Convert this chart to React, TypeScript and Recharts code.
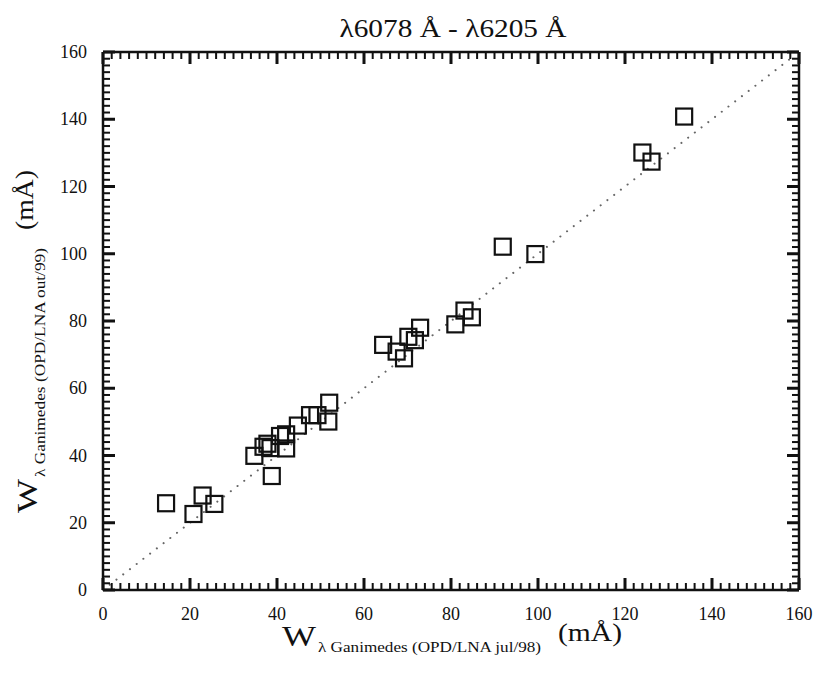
import React from 'react';
import { ScatterChart, Scatter, XAxis, YAxis, ReferenceLine } from 'recharts';

// W_lambda Ganimedes (OPD/LNA jul/98), mÅ
const jul98 = [14.5, 20.8, 22.9, 25.6, 34.8, 38.8, 36.9, 37.8, 38.5, 42.1, 42.1, 40.7, 44.8, 47.6, 49.3, 51.8, 52.0, 64.4, 67.5, 69.2, 70.2, 71.7, 72.9, 81.0, 83.1, 84.8, 91.9, 99.4, 124.0, 126.1, 133.6];
// W_lambda Ganimedes (OPD/LNA out/99), mÅ
const out99 = [25.8, 22.6, 28.1, 25.6, 39.9, 33.9, 42.6, 43.5, 42.2, 42.1, 46.3, 45.8, 48.9, 52.0, 52.0, 50.1, 55.7, 72.9, 70.9, 68.9, 75.3, 74.3, 78.0, 79.0, 83.1, 81.1, 102.1, 99.9, 130.1, 127.4, 140.8];

const majorTicks = [0, 20, 40, 60, 80, 100, 120, 140, 160];
const allTicks = Array.from({ length: 81 }, (_, i) => i * 2);
const identityLine = [{ x: 0, y: 0 }, { x: 158, y: 158 }];

const points = jul98.map((x, i) => ({ x, y: out99[i] }));

const FONT = '"Liberation Serif", "Times New Roman", serif';
const INK = '#111';

const CHART_W = 820;
const CHART_H = 679;
const MARGIN = { top: 52, right: 21, bottom: 59, left: 63 };
const XAXIS_H = 30;
const YAXIS_W = 40;
const PLOT_W = CHART_W - MARGIN.left - MARGIN.right - YAXIS_W;
const PLOT_H = CHART_H - MARGIN.top - MARGIN.bottom - XAXIS_H;

// bottom axis tick: draws the inward tick on the bottom and the mirrored one on the top frame
const BottomTick = (props: any) => {
  const { x, y, payload } = props;
  const v = payload.value as number;
  const major = majorTicks.includes(v);
  const len = major ? 12 : 7;
  const w = major ? 3 : 2;
  return (
    <g>
      <rect x={x - w / 2} y={y - len} width={w} height={len} fill={INK} />
      <rect x={x - w / 2} y={y - PLOT_H} width={w} height={len} fill={INK} />
      {major ? (
        <text x={x} y={y + 30} textAnchor="middle" fontFamily={FONT} fontSize={18} fill={INK}>{v}</text>
      ) : null}
    </g>
  );
};

// left axis tick: draws the inward tick on the left and the mirrored one on the right frame
const LeftTick = (props: any) => {
  const { x, y, payload } = props;
  const v = payload.value as number;
  const major = majorTicks.includes(v);
  const len = major ? 12 : 7;
  const w = major ? 3 : 2;
  return (
    <g>
      <rect x={x} y={y - w / 2} width={len} height={w} fill={INK} />
      <rect x={x + PLOT_W - len} y={y - w / 2} width={len} height={w} fill={INK} />
      {major ? (
        <text x={x - 16} y={y + 6} textAnchor="end" fontFamily={FONT} fontSize={18} fill={INK}>{v}</text>
      ) : null}
    </g>
  );
};

const SquareShape = (props: any) => {
  const { cx, cy } = props;
  const s = 16;
  return <rect x={cx - s / 2} y={cy - s / 2} width={s} height={s} fill="none" stroke={INK} strokeWidth={2.2} />;
};

const axisCommon = {
  type: 'number' as const,
  domain: [0, 160] as [number, number],
  ticks: allTicks,
  interval: 0 as const,
  tickSize: 0,
  tickMargin: 0,
  axisLine: { stroke: INK, strokeWidth: 2.5 },
  tickLine: false,
  allowDataOverflow: true,
};

export default function App() {
  return (
    <div style={{ position: 'absolute', left: 0, top: 0, width: CHART_W, height: CHART_H, background: '#fff' }}>
      <svg width={CHART_W} height={CHART_H} style={{ position: 'absolute', left: 0, top: 0 }}>
        <text x={453} y={37} textAnchor="middle" fontFamily={FONT} fontSize={25} fill={INK} textLength={227} lengthAdjust="spacingAndGlyphs">
          λ6078 Å - λ6205 Å
        </text>
        <text x={282} y={646} fontFamily={FONT} fontSize={30} fill={INK} textLength={34} lengthAdjust="spacingAndGlyphs">W</text>
        <text x={318} y={652} fontFamily={FONT} fontSize={15} fill={INK} textLength={223} lengthAdjust="spacingAndGlyphs">λ Ganimedes (OPD/LNA jul/98)</text>
        <text x={558} y={641} fontFamily={FONT} fontSize={25} fill={INK} textLength={64} lengthAdjust="spacingAndGlyphs">(mÅ)</text>
        <g transform="rotate(-90)">
          <text x={-513} y={37} fontFamily={FONT} fontSize={30} fill={INK} textLength={34} lengthAdjust="spacingAndGlyphs">W</text>
          <text x={-477} y={45} fontFamily={FONT} fontSize={15} fill={INK} textLength={229} lengthAdjust="spacingAndGlyphs">λ Ganimedes (OPD/LNA out/99)</text>
          <text x={-230} y={33} fontFamily={FONT} fontSize={25} fill={INK} textLength={60} lengthAdjust="spacingAndGlyphs">(mÅ)</text>
        </g>
      </svg>
      <ScatterChart width={CHART_W} height={CHART_H} margin={MARGIN}>
        <XAxis {...axisCommon} dataKey="x" xAxisId="b" orientation="bottom" height={XAXIS_H} tick={BottomTick} />
        <YAxis {...axisCommon} dataKey="y" yAxisId="l" orientation="left" width={YAXIS_W} tick={LeftTick} />
        <ReferenceLine xAxisId="b" yAxisId="l" y={160} stroke={INK} strokeWidth={2.5} ifOverflow="visible" />
        <ReferenceLine xAxisId="b" yAxisId="l" x={160} stroke={INK} strokeWidth={2.5} ifOverflow="visible" />
        <ReferenceLine
          xAxisId="b"
          yAxisId="l"
          segment={identityLine}
          stroke="#666"
          strokeWidth={2}
          strokeDasharray="0.1 8.4"
          strokeLinecap="round"
          ifOverflow="visible"
        />
        <Scatter xAxisId="b" yAxisId="l" data={points} shape={SquareShape} isAnimationActive={false} />
      </ScatterChart>
    </div>
  );
}
